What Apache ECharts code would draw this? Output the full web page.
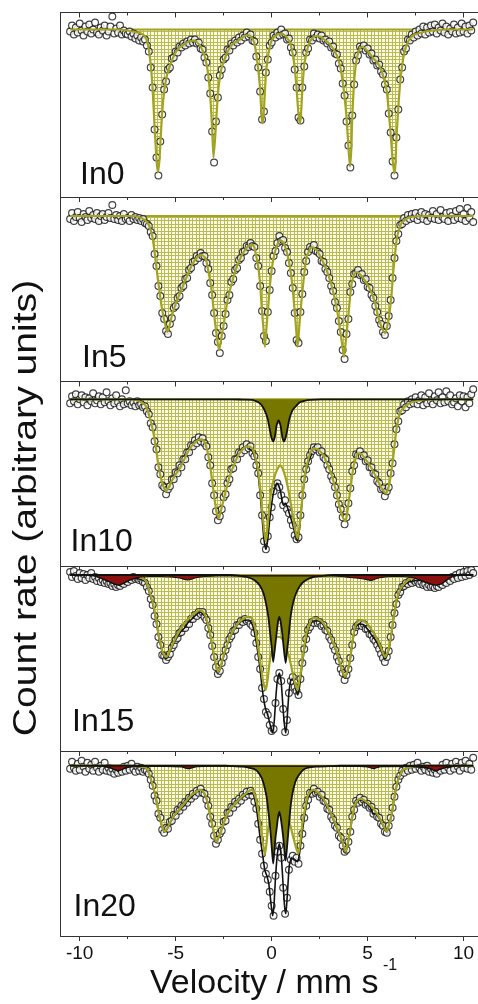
<!DOCTYPE html>
<html><head><meta charset="utf-8">
<script src="https://cdn.jsdelivr.net/npm/echarts@6/dist/echarts.min.js"></script>
<style>html,body{margin:0;padding:0;background:#fff}#c{width:478px;height:1004px}</style>
</head><body><div id="c"></div>
<script>
// ---------------- DATA ----------------
const velocity = [-10.5,-10.4,-10.3,-10.2,-10.1,
-10,-9.9,-9.8,-9.7,-9.6,-9.5,-9.4,-9.3,-9.2,-9.1,
-9,-8.9,-8.8,-8.7,-8.6,-8.5,-8.4,-8.3,-8.2,-8.1,
-8,-7.9,-7.8,-7.7,-7.6,-7.5,-7.4,-7.3,-7.2,-7.1,
-7,-6.9,-6.8,-6.7,-6.6,-6.5,-6.4,-6.3,-6.2,-6.1,
-6,-5.9,-5.8,-5.7,-5.6,-5.5,-5.4,-5.3,-5.2,-5.1,
-5,-4.9,-4.8,-4.7,-4.6,-4.5,-4.4,-4.3,-4.2,-4.1,
-4,-3.9,-3.8,-3.7,-3.6,-3.5,-3.4,-3.3,-3.2,-3.1,
-3,-2.9,-2.8,-2.7,-2.6,-2.5,-2.4,-2.3,-2.2,-2.1,
-2,-1.9,-1.8,-1.7,-1.6,-1.5,-1.4,-1.3,-1.2,-1.1,
-1,-0.9,-0.8,-0.7,-0.6,-0.5,-0.4,-0.3,-0.2,-0.1,
0,0.1,0.2,0.3,0.4,0.5,0.6,0.7,0.8,0.9,
1,1.1,1.2,1.3,1.4,1.5,1.6,1.7,1.8,1.9,
2,2.1,2.2,2.3,2.4,2.5,2.6,2.7,2.8,2.9,
3,3.1,3.2,3.3,3.4,3.5,3.6,3.7,3.8,3.9,
4,4.1,4.2,4.3,4.4,4.5,4.6,4.7,4.8,4.9,
5,5.1,5.2,5.3,5.4,5.5,5.6,5.7,5.8,5.9,
6,6.1,6.2,6.3,6.4,6.5,6.6,6.7,6.8,6.9,
7,7.1,7.2,7.3,7.4,7.5,7.6,7.7,7.8,7.9,
8,8.1,8.2,8.3,8.4,8.5,8.6,8.7,8.8,8.9,
9,9.1,9.2,9.3,9.4,9.5,9.6,9.7,9.8,9.9,
10,10.1,10.2,10.3,10.4,10.5];

const sampleLabels = ['In0','In5','In10','In15','In20'];
const majorTicks = [-10,-5,0,5,10];
const minorTicks = [-7.5,-2.5,2.5,7.5];

// measured count rate (relative to baseline), one value per velocity channel
const in0Counts = [-2,4,-5,2,-3,6,-1,-6,3,-2,5,-4,0,7,-3,-5,2,-1,4,-6,-2,3,13,-4,1,-3,4,-5,-1,-4,
-5,-2,-7,-4,-9,-6,-11,-8,-12,-10,
-16,-22,-38,-58,-100,-128,-146,-112,-85,-60,
-52,-40,-38,-29,-28,-22,-23,-17,-18,-14,
-16,-12,-14,-10,-13,-10,-14,-13,-19,-20,
-28,-33,-48,-64,-102,-133,-92,-68,-46,-40,
-30,-28,-20,-21,-14,-16,-11,-13,-8,-11,
-6,-8,-3,-7,-5,-11,-12,-27,-38,-62,
-90,-82,-43,-30,-16,-13,-6,-8,-3,-6,
0,-5,-4,-10,-9,-18,-23,-40,-58,-88,
-91,-58,-37,-23,-19,-10,-11,-4,-8,-5,
-9,-6,-11,-10,-14,-12,-18,-17,-24,-25,
-34,-39,-54,-66,-92,-116,-138,-86,-55,-31,
-26,-17,-19,-16,-21,-19,-25,-24,-31,-30,
-36,-35,-42,-45,-55,-60,-84,-103,-132,-146,
-108,-80,-50,-38,-22,-19,-10,-11,-5,-8,
-2,-6,0,-4,3,-5,2,-3,4,-2,
5,-4,2,-1,6,-3,3,-5,1,-2,
5,-4,2,-3,6,-2,3,-4,4,-1,7];

const in5Counts = [-3,3,-5,-1,4,-2,-6,2,-1,-4,5,-2,1,-3,3,-5,0,2,-4,-1,3,-2,11,-3,1,-4,0,-5,2,-3,
-2,-5,1,-3,-1,-4,-2,-5,-3,-7,
-8,-10,-16,-20,-38,-50,-70,-80,-97,-103,
-115,-118,-108,-102,-92,-90,-82,-80,-72,-70,
-63,-62,-54,-52,-46,-45,-40,-42,-37,-40,
-40,-47,-53,-67,-79,-97,-117,-126,-137,-120,
-110,-98,-84,-79,-66,-63,-54,-52,-44,-42,
-36,-35,-30,-31,-27,-30,-31,-42,-50,-70,
-95,-120,-125,-96,-74,-55,-40,-35,-27,-20,
-25,-24,-32,-36,-47,-57,-72,-97,-124,-127,
-96,-78,-56,-45,-36,-31,-33,-29,-35,-36,
-38,-45,-46,-53,-56,-62,-70,-75,-86,-92,
-105,-116,-134,-143,-118,-103,-76,-68,-58,-57,
-54,-59,-58,-64,-63,-71,-72,-79,-82,-90,
-96,-104,-108,-116,-119,-110,-100,-84,-62,-42,
-25,-18,-9,-8,-2,-5,1,-3,2,-2,
3,-4,0,4,-3,2,-5,1,-2,5,
-3,2,-4,6,-1,-3,3,-5,4,0,
-4,5,-2,7,-3,2,-5,8,-2,4,-6];

const in10Counts = [-4,3,-2,5,-5,0,4,-3,2,-6,1,-2,6,-4,-1,3,-5,2,-3,7,-2,-6,1,-4,4,-3,-7,0,-5,9,
-4,-2,-6,-3,-7,-2,-6,-5,-8,-7,
-12,-15,-24,-28,-42,-50,-68,-75,-86,-88,
-95,-90,-87,-80,-80,-73,-74,-66,-68,-60,
-60,-53,-53,-46,-47,-41,-44,-38,-42,-39,
-44,-47,-58,-66,-84,-96,-112,-121,-117,-110,
-98,-95,-84,-80,-70,-69,-60,-60,-53,-54,
-48,-51,-45,-49,-47,-54,-57,-66,-74,-96,
-116,-142,-150,-137,-118,-108,-92,-86,-84,-88,
-96,-106,-101,-110,-114,-121,-126,-136,-140,-138,
-116,-96,-80,-70,-62,-56,-52,-48,-50,-48,
-53,-52,-58,-60,-66,-70,-77,-81,-88,-96,
-105,-110,-118,-125,-118,-104,-89,-72,-66,-55,
-56,-52,-57,-56,-62,-61,-68,-68,-74,-75,
-82,-84,-90,-89,-97,-92,-88,-74,-64,-45,
-30,-22,-12,-11,-5,-8,-2,-5,0,-4,
2,-5,-1,4,-6,2,-4,6,-2,-5,
3,-1,7,-4,2,-3,8,-2,4,-5,
-3,1,-7,4,-2,3,-8,2,-4,5,10];

const in15Counts = [3,-2,4,-1,-4,2,-3,1,-5,0,-3,2,-4,-2,-6,-3,-7,-5,-8,-6,-9,-8,-11,-9,-12,-10,-11,-8,-9,-6,
-7,-4,-5,-2,-4,-3,-5,-4,-7,-8,
-12,-16,-24,-30,-41,-49,-62,-70,-80,-81,
-85,-82,-79,-73,-70,-65,-63,-58,-57,-53,
-53,-49,-49,-44,-44,-40,-41,-37,-39,-37,
-42,-45,-53,-60,-71,-82,-92,-99,-96,-88,
-82,-75,-70,-64,-61,-56,-55,-50,-50,-46,
-47,-44,-46,-45,-49,-51,-58,-68,-82,-94,
-113,-124,-137,-140,-150,-156,-154,-128,-104,-98,
-106,-134,-157,-145,-118,-106,-102,-112,-116,-120,
-104,-88,-74,-64,-55,-52,-47,-48,-45,-48,
-47,-51,-50,-55,-56,-62,-65,-71,-75,-82,
-86,-94,-98,-105,-100,-94,-83,-70,-57,-52,
-50,-48,-51,-49,-54,-54,-59,-60,-64,-66,
-70,-74,-79,-83,-87,-82,-76,-62,-50,-38,
-29,-20,-17,-12,-11,-8,-9,-6,-8,-5,
-7,-6,-9,-7,-10,-9,-12,-10,-12,-11,
-13,-11,-12,-9,-10,-7,-8,-4,-6,-2,
-4,0,-3,2,-2,3,-1,4,0,5,2];

const in20Counts = [-3,4,-2,-5,2,-4,5,-1,-6,3,-3,1,-5,4,-2,-6,0,-4,3,-5,-2,-6,-3,-8,-4,-7,-3,-6,-1,-5,
0,-4,2,-3,-6,-1,-5,-2,-6,-4,
-5,-8,-14,-20,-30,-35,-48,-52,-64,-67,
-62,-63,-56,-55,-49,-50,-44,-45,-40,-41,
-36,-37,-32,-33,-28,-30,-25,-27,-23,-27,
-28,-34,-40,-51,-58,-70,-78,-74,-68,-65,
-56,-55,-47,-47,-41,-42,-36,-38,-33,-35,
-29,-31,-26,-29,-25,-30,-36,-43,-58,-74,
-88,-100,-108,-114,-126,-140,-150,-110,-86,-80,
-92,-122,-148,-132,-104,-94,-90,-96,-92,-98,
-80,-68,-52,-40,-34,-27,-28,-23,-27,-26,
-31,-29,-35,-36,-43,-44,-51,-54,-60,-62,
-70,-72,-80,-86,-84,-76,-66,-51,-44,-35,
-37,-32,-36,-34,-39,-38,-42,-41,-48,-46,
-51,-52,-58,-60,-66,-67,-60,-52,-42,-31,
-21,-14,-10,-5,-7,-2,-5,0,-4,1,
-3,3,-2,-5,-1,-4,0,-6,-3,-7,
-4,-8,-3,-5,1,-4,3,-2,-5,2,
-3,4,-1,-5,3,-2,5,-3,2,-4,8];

// fitted sub-spectra [velocity, count rate]
const in0Sextet = [[-10.5,0],[-8,0],[-7.5,-1],[-7,-3],[-6.8,-4],[-6.6,-7],[-6.5,-11],[-6.4,-20],[-6.3,-35],[-6.2,-60],[-6.1,-97],[-6,-130],[-5.93,-143],[-5.85,-132],[-5.8,-115],[-5.7,-82],[-5.6,-62],[-5.5,-50],[-5.4,-42],[-5.2,-31],[-5,-23],[-4.8,-18],[-4.6,-15.5],[-4.4,-13],[-4.2,-11.5],[-4.05,-11],[-3.9,-12.5],[-3.7,-17],[-3.5,-26],[-3.4,-34],[-3.3,-46],[-3.2,-66],[-3.1,-100],[-3.03,-128],[-2.95,-110],[-2.9,-95],[-2.8,-65],[-2.7,-48],[-2.6,-38],[-2.4,-27],[-2.2,-19],[-2,-14],[-1.8,-12],[-1.6,-9],[-1.4,-6.5],[-1.2,-5.5],[-1,-9],[-0.9,-14],[-0.8,-25],[-0.7,-40],[-0.6,-60],[-0.52,-88],[-0.46,-94],[-0.4,-80],[-0.3,-45],[-0.2,-28],[-0.1,-18],[0,-11],[0.2,-6],[0.5,-4],[0.7,-6],[0.9,-11],[1,-16],[1.1,-25],[1.2,-38],[1.3,-60],[1.4,-85],[1.47,-94],[1.53,-85],[1.6,-60],[1.7,-35],[1.8,-25],[1.9,-17],[2,-12],[2.2,-7],[2.4,-6.5],[2.6,-8],[2.8,-11],[3,-14],[3.2,-19],[3.4,-26],[3.5,-32],[3.6,-40],[3.7,-52],[3.8,-68],[3.9,-88],[4,-118],[4.08,-137],[4.15,-120],[4.2,-88],[4.3,-52],[4.4,-33],[4.5,-24],[4.6,-19],[4.7,-17],[4.9,-19.5],[5.1,-23.5],[5.3,-29],[5.5,-33],[5.7,-40],[5.9,-53],[6,-62],[6.1,-82],[6.2,-105],[6.3,-130],[6.39,-144],[6.45,-135],[6.5,-110],[6.6,-78],[6.7,-52],[6.8,-36],[6.9,-24],[7,-17],[7.2,-9],[7.4,-5.5],[7.6,-4],[7.8,-3],[8,-2],[8.4,-1],[9,0],[10.5,0]];

const in5Sextet = [[-10.5,0],[-7.3,0],[-7,-0.5],[-6.8,-2],[-6.6,-4],[-6.5,-6],[-6.4,-9],[-6.3,-14],[-6.2,-22],[-6.1,-36],[-6,-52],[-5.9,-67],[-5.8,-82],[-5.7,-94],[-5.6,-104],[-5.5,-112],[-5.44,-116],[-5.35,-112],[-5.2,-100],[-5,-88],[-4.86,-81],[-4.6,-69],[-4.43,-61],[-4.2,-51],[-4,-44],[-3.8,-40],[-3.65,-39],[-3.5,-41],[-3.39,-46],[-3.3,-55],[-3.2,-65],[-3.13,-74],[-3,-98],[-2.9,-114],[-2.8,-128],[-2.73,-134],[-2.65,-125],[-2.52,-111],[-2.4,-96],[-2.26,-81],[-2,-62],[-1.82,-51],[-1.6,-41],[-1.39,-34],[-1.2,-30],[-0.96,-29],[-0.85,-36],[-0.7,-51],[-0.6,-68],[-0.52,-91],[-0.43,-112],[-0.35,-131],[-0.27,-112],[-0.18,-91],[-0.05,-62],[0.08,-44],[0.25,-31],[0.43,-24],[0.6,-26],[0.8,-37],[0.95,-51],[1.07,-68],[1.18,-91],[1.27,-112],[1.35,-131],[1.45,-108],[1.56,-84],[1.7,-58],[1.82,-41],[2,-33],[2.08,-31],[2.34,-34],[2.6,-43],[2.86,-54],[3.1,-68],[3.3,-84],[3.45,-99],[3.56,-114],[3.67,-128],[3.77,-141],[3.88,-122],[3.99,-101],[4.1,-78],[4.17,-67],[4.3,-59],[4.43,-56],[4.6,-58],[4.77,-62],[5,-69],[5.21,-77],[5.4,-88],[5.55,-101],[5.75,-112],[5.9,-117],[6.05,-108],[6.16,-94],[6.25,-78],[6.33,-57],[6.42,-40],[6.51,-24],[6.6,-16],[6.77,-7],[7,-3],[7.2,-1.3],[7.5,-0.5],[8,0],[10.5,0]];

const in10Sextet = [[-10.5,0],[-7.4,0],[-7,-1],[-6.8,-3],[-6.6,-5.7],[-6.5,-9],[-6.34,-19],[-6.2,-30],[-6.08,-42],[-5.9,-66],[-5.73,-82],[-5.6,-89],[-5.5,-92],[-5.35,-88],[-5.21,-82],[-5,-75],[-4.78,-69],[-4.55,-60],[-4.34,-52],[-4.1,-45],[-3.91,-42],[-3.75,-40],[-3.56,-41],[-3.43,-46],[-3.3,-56],[-3.18,-70],[-3.07,-86],[-2.96,-102],[-2.86,-114],[-2.75,-119],[-2.65,-112],[-2.52,-102],[-2.35,-89],[-2.17,-76],[-1.95,-65],[-1.74,-56],[-1.5,-50],[-1.3,-47],[-1.1,-48],[-0.96,-51],[-0.83,-60],[-0.7,-72],[-0.58,-92],[-0.47,-116],[-0.38,-133],[-0.3,-142],[-0.2,-125],[-0.09,-102],[0.04,-86],[0.17,-76],[0.3,-70],[0.43,-66],[0.56,-69],[0.69,-76],[0.82,-86],[0.95,-99],[1.08,-114],[1.21,-129],[1.35,-139],[1.43,-130],[1.51,-116],[1.62,-95],[1.73,-76],[1.87,-63],[2,-54],[2.13,-50],[2.26,-49],[2.48,-51],[2.69,-56],[2.9,-65],[3.13,-76],[3.3,-88],[3.47,-102],[3.6,-112],[3.73,-119],[3.85,-122],[3.95,-112],[4.04,-99],[4.15,-83],[4.25,-69],[4.38,-59],[4.51,-54],[4.7,-55],[4.86,-59],[5.08,-65],[5.29,-72],[5.47,-79],[5.64,-86],[5.8,-91],[5.95,-94],[6.06,-90],[6.16,-82],[6.25,-70],[6.33,-59],[6.42,-43],[6.51,-29],[6.6,-20],[6.68,-14],[6.85,-9],[7.03,-5.7],[7.3,-3],[7.6,-1.5],[8,0],[10.5,0]];

const in10Doublet = [[-10.5,0],[-2,0],[-1.5,-0.3],[-1,-0.5],[-0.8,-2],[-0.61,-4],[-0.45,-8],[-0.3,-14],[-0.2,-20],[-0.1,-30],[0,-39],[0.08,-42],[0.16,-38],[0.26,-26],[0.36,-21],[0.46,-26],[0.56,-38],[0.64,-42],[0.72,-39],[0.82,-30],[0.92,-20],[1.02,-14],[1.12,-10],[1.3,-6],[1.47,-3],[1.7,-1.5],[2,-0.5],[2.6,0],[10.5,0]];

const in10Total = [[-1.2,-49],[-1,-52],[-0.8,-64],[-0.7,-76],[-0.6,-94],[-0.5,-118],[-0.4,-140],[-0.3,-150],[-0.2,-140],[-0.1,-120],[0,-105],[0.08,-95],[0.17,-88],[0.26,-84],[0.36,-86],[0.46,-92],[0.56,-103],[0.64,-106],[0.72,-104],[0.82,-108],[0.95,-116],[1.08,-124],[1.21,-134],[1.35,-142],[1.45,-130],[1.55,-110],[1.65,-90],[1.75,-76],[1.9,-64],[2.1,-54]];

const in15Sextet = [[-10.5,0],[-7.5,0],[-7.2,-0.5],[-6.9,-2],[-6.6,-5],[-6.47,-10],[-6.34,-18],[-6.2,-27],[-6.08,-38],[-5.97,-50],[-5.87,-62],[-5.77,-70],[-5.68,-77],[-5.5,-82],[-5.4,-80],[-5.3,-75],[-5.05,-65],[-4.78,-55],[-4.52,-48],[-4.26,-42],[-4,-38],[-3.73,-35],[-3.6,-36],[-3.47,-40],[-3.34,-48],[-3.21,-58],[-3.1,-70],[-2.99,-82],[-2.88,-92],[-2.78,-97],[-2.65,-91],[-2.52,-82],[-2.35,-71],[-2.17,-62],[-1.95,-54],[-1.74,-48],[-1.5,-44],[-1.3,-42],[-1.04,-43],[-0.9,-50],[-0.78,-62],[-0.7,-73],[-0.61,-85],[-0.52,-97],[-0.43,-108],[-0.3,-115],[-0.2,-103],[-0.09,-85],[0.04,-73],[0.17,-65],[0.3,-62],[0.43,-62],[0.56,-64],[0.69,-68],[0.82,-76],[0.95,-85],[1.08,-97],[1.21,-108],[1.35,-115],[1.45,-105],[1.56,-92],[1.69,-73],[1.82,-58],[2,-48],[2.17,-43],[2.43,-44],[2.69,-48],[2.95,-57],[3.21,-68],[3.4,-78],[3.56,-88],[3.7,-97],[3.82,-102],[3.95,-96],[4.08,-85],[4.2,-68],[4.34,-52],[4.47,-47],[4.6,-45],[4.8,-46],[5.03,-50],[5.25,-56],[5.47,-63],[5.7,-73],[5.9,-82],[6.03,-78],[6.16,-68],[6.25,-57],[6.33,-45],[6.42,-35],[6.51,-25],[6.64,-17],[6.77,-12],[6.95,-8],[7.12,-5],[7.4,-2.5],[7.8,-1],[8.2,0],[10.5,0]];

const in15Doublet = [[-10.5,0],[-2.2,0],[-1.6,-1],[-1.3,-2],[-1,-4],[-0.78,-7],[-0.6,-11],[-0.43,-18],[-0.3,-28],[-0.17,-42],[-0.08,-58],[0,-72],[0.08,-87],[0.16,-75],[0.26,-58],[0.33,-47],[0.4,-42],[0.47,-47],[0.55,-58],[0.64,-75],[0.73,-88],[0.8,-76],[0.87,-65],[0.95,-48],[1.04,-35],[1.17,-24],[1.3,-17],[1.47,-11],[1.65,-7],[1.9,-4],[2.17,-2],[2.6,-1],[3.2,0],[10.5,0]];

const in15Red = [[-10.5,0],[-9.5,0],[-9.2,-1],[-8.9,-3],[-8.6,-5.5],[-8.3,-8],[-8,-10],[-7.7,-8],[-7.4,-5],[-7.1,-3],[-6.8,-2],[-6.4,-1.5],[-5.8,-1.5],[-5.2,-2],[-4.8,-3],[-4.5,-4.5],[-4.34,-5],[-4.15,-4],[-3.9,-2.5],[-3.5,-1.5],[-2.8,-1],[-2,-1],[-1,-0.8],[1,-0.8],[2,-1],[3,-1],[3.7,-1.5],[4.1,-2.5],[4.4,-3],[4.8,-4],[5.05,-5],[5.21,-5.5],[5.4,-4],[5.7,-2.5],[6.2,-1.5],[6.8,-1.5],[7.2,-2],[7.6,-4],[8,-7],[8.3,-9],[8.59,-10],[8.9,-8],[9.1,-5],[9.3,-2.5],[9.5,-1],[9.8,0],[10.5,0]];

const in15Total = [[-10.5,0],[-9.5,0],[-9.2,-1],[-8.9,-3],[-8.6,-5.5],[-8.3,-8],[-8,-10],[-7.7,-8],[-7.4,-5],[-7.1,-3.5],[-6.9,-4],[-6.6,-6.5],[-6.47,-11.5],[-6.34,-19.5],[-6.2,-28.5],[-6.08,-39.5],[-5.97,-51.5],[-5.87,-63.5],[-5.77,-71.5],[-5.68,-78.5],[-5.5,-83.5],[-5.4,-81.5],[-5.3,-76.5],[-5.05,-66.5],[-4.78,-58],[-4.52,-52.5],[-4.34,-47],[-4.26,-46],[-4,-41],[-3.73,-37],[-3.47,-41.5],[-3.34,-49.5],[-3.21,-59.5],[-3.1,-71],[-2.99,-83],[-2.88,-93],[-2.78,-98],[-2.65,-92],[-2.52,-83],[-2.35,-72],[-2.17,-63],[-1.95,-55],[-1.74,-49],[-1.5,-45.5],[-1.2,-45],[-1,-50],[-0.85,-62],[-0.7,-80],[-0.6,-95],[-0.5,-112],[-0.4,-126],[-0.3,-135],[-0.2,-140],[-0.1,-148],[0,-155],[0.06,-158],[0.14,-145],[0.22,-122],[0.3,-105],[0.4,-98],[0.5,-108],[0.6,-135],[0.68,-152],[0.74,-158],[0.82,-140],[0.9,-118],[1,-105],[1.1,-104],[1.2,-110],[1.35,-120],[1.45,-112],[1.55,-96],[1.7,-75],[1.85,-60],[2,-50],[2.17,-46],[2.43,-46],[2.69,-50],[2.95,-58],[3.21,-69],[3.4,-79],[3.56,-89],[3.7,-98],[3.82,-103],[3.95,-97],[4.08,-86],[4.2,-69],[4.34,-54],[4.47,-50],[4.6,-49],[4.8,-50],[5.03,-55],[5.21,-60],[5.47,-67],[5.7,-75.5],[5.9,-84],[6.03,-79.5],[6.16,-69.5],[6.25,-58.5],[6.33,-46.5],[6.42,-36.5],[6.51,-26.5],[6.64,-18.5],[6.77,-13.5],[6.95,-9.5],[7.12,-7],[7.4,-6],[7.6,-5],[8,-7],[8.3,-9],[8.59,-10],[8.9,-8],[9.1,-5],[9.3,-2.5],[9.5,-1],[9.8,0],[10.5,0]];

const in20Sextet = [[-10.5,0],[-7.4,0],[-7,-0.5],[-6.7,-1.5],[-6.51,-2.7],[-6.38,-8],[-6.25,-16],[-6.12,-25],[-5.99,-36],[-5.9,-45],[-5.82,-53],[-5.7,-61],[-5.6,-66],[-5.45,-63],[-5.3,-57],[-5.05,-49],[-4.78,-43],[-4.52,-37],[-4.26,-31],[-4,-27],[-3.73,-24],[-3.56,-26],[-3.39,-33],[-3.26,-44],[-3.13,-56],[-3,-68],[-2.9,-76],[-2.77,-72],[-2.6,-63],[-2.4,-52],[-2.17,-44],[-1.9,-38],[-1.65,-33],[-1.35,-28],[-1.04,-24],[-0.9,-28],[-0.78,-36],[-0.67,-48],[-0.56,-63],[-0.45,-78],[-0.35,-89],[-0.27,-78],[-0.18,-63],[-0.05,-50],[0.08,-45],[0.3,-43],[0.55,-44],[0.75,-48],[0.95,-58],[1.13,-72],[1.27,-82],[1.39,-88],[1.5,-75],[1.6,-59],[1.75,-42],[1.9,-29],[2.17,-24],[2.43,-27],[2.69,-33],[2.95,-42],[3.21,-53],[3.45,-64],[3.64,-73],[3.85,-86],[3.97,-77],[4.08,-66],[4.2,-51],[4.34,-39],[4.47,-35],[4.6,-33],[4.86,-35],[5.12,-39],[5.38,-45],[5.64,-53],[5.85,-61],[5.99,-66],[6.12,-58],[6.25,-49],[6.33,-39],[6.42,-29],[6.51,-20],[6.6,-13],[6.73,-8],[6.86,-4],[7.1,-2],[7.5,-0.5],[8,0],[10.5,0]];

const in20Doublet = [[-10.5,0],[-2.4,0],[-2,-0.5],[-1.5,-1],[-1.2,-2],[-0.96,-3],[-0.78,-5],[-0.61,-9],[-0.48,-14],[-0.35,-23],[-0.25,-33],[-0.17,-46],[-0.1,-58],[-0.03,-73],[0.03,-88],[0.08,-98],[0.14,-86],[0.2,-72],[0.26,-63],[0.33,-52],[0.4,-46],[0.47,-52],[0.55,-63],[0.62,-75],[0.68,-88],[0.73,-95],[0.79,-84],[0.87,-66],[0.95,-48],[1.04,-33],[1.15,-22],[1.3,-13],[1.47,-8],[1.65,-4],[1.9,-2],[2.3,-1],[3,-0.5],[3.6,0],[10.5,0]];

const in20Red = [[-10.5,0],[-8.8,-0.5],[-8.4,-2],[-8.15,-4],[-8,-5],[-7.85,-4],[-7.6,-2],[-7.2,-0.8],[-5.5,-0.6],[-4.7,-1.2],[-4.45,-2.5],[-4.34,-3],[-4.2,-2.5],[-3.9,-1],[-3,-0.5],[4.6,-0.6],[5,-1.2],[5.2,-2.5],[5.3,-3],[5.4,-2.5],[5.7,-1],[7.5,-0.8],[8.1,-2],[8.4,-4],[8.55,-5],[8.7,-4],[9,-2],[9.5,-0.5],[10.5,0]];

const in20Total = [[-10.5,0],[-8.8,-0.5],[-8.4,-2],[-8.15,-4],[-8,-5],[-7.85,-4],[-7.6,-2],[-7.2,-0.8],[-6.7,-2],[-6.51,-3.2],[-6.38,-8.5],[-6.25,-16.5],[-6.12,-25.5],[-5.99,-36.5],[-5.9,-45.5],[-5.82,-53.5],[-5.7,-61.5],[-5.6,-66.5],[-5.45,-63.5],[-5.3,-57.5],[-5.05,-49.5],[-4.78,-44],[-4.52,-39],[-4.34,-34],[-4.26,-33],[-4,-28],[-3.73,-24.5],[-3.56,-26.5],[-3.39,-33.5],[-3.26,-44.5],[-3.13,-56.5],[-3,-68.5],[-2.9,-76.5],[-2.77,-72.5],[-2.6,-63.5],[-2.4,-52.5],[-2.17,-44.5],[-1.9,-38.5],[-1.65,-34],[-1.35,-29],[-1.2,-28],[-1,-28],[-0.8,-42],[-0.6,-72],[-0.45,-92],[-0.35,-105],[-0.25,-110],[-0.15,-118],[-0.05,-135],[0.05,-150],[0.12,-140],[0.2,-112],[0.3,-88],[0.4,-78],[0.5,-90],[0.6,-120],[0.68,-142],[0.74,-148],[0.82,-128],[0.92,-100],[1.05,-92],[1.2,-94],[1.35,-96],[1.45,-88],[1.6,-66],[1.75,-46],[1.9,-32],[2.17,-25],[2.43,-28],[2.69,-34],[2.95,-43],[3.21,-54],[3.45,-65],[3.64,-74],[3.85,-87],[3.97,-78],[4.08,-67],[4.2,-52],[4.34,-40],[4.47,-36],[4.6,-34],[4.86,-36.5],[5.12,-41],[5.3,-48],[5.38,-47.5],[5.64,-54],[5.85,-61.5],[5.99,-66.5],[6.12,-58.5],[6.25,-49.5],[6.33,-39.5],[6.42,-29.5],[6.51,-20.5],[6.6,-13.5],[6.73,-8.5],[6.86,-4.5],[7.1,-2.3],[7.5,-1.2],[8.1,-2],[8.4,-4],[8.55,-5],[8.7,-4],[9,-2],[9.5,-0.5],[10.5,0]];

// ---------------- LAYOUT / STYLE ----------------
const countsBySample = [in0Counts, in5Counts, in10Counts, in15Counts, in20Counts];
const sextetFits = [in0Sextet, in5Sextet, in10Sextet, in15Sextet, in20Sextet];
const doubletFits = [null, null, in10Doublet, in15Doublet, in20Doublet];
const redFits = [null, null, null, in15Red, in20Red];
const totalFits = [null, null, in10Total, in15Total, in20Total];

const X_MIN = -11, X_MAX = 10.75;
const panelTop = [12.5, 197, 381.5, 566.5, 751];
const panelBottom = [197, 381.5, 566.5, 751, 936];
const panelY = [[-167.5, 17], [-165.5, 19], [-167.2, 17.8], [-176, 8.5], [-170.3, 14.7]];
const labelPos = [[80, 175], [82, 358.5], [70.5, 542.5], [72, 722], [73.5, 907.5]];

const FONT = "'Liberation Sans', Arial, Helvetica, sans-serif";
const OLIVE = '#a3a322';
const DARK_OLIVE = '#777700';
const RED = '#8b1010';
const INK = '#111';
const FRAME = '#333';

// hatch pattern
const hatch = document.createElement('canvas');
hatch.width = 7; hatch.height = 7;
(function () {
  const g = hatch.getContext('2d');
  g.fillStyle = '#fbfbe2'; g.fillRect(0, 0, 7, 7);
  g.fillStyle = '#b9b955';
  g.fillRect(0, 0, 7, 1); g.fillRect(0, 3, 7, 1);
  g.fillRect(0, 0, 1, 7); g.fillRect(3, 0, 1, 7);
})();

const grids = [], xAxes = [], yAxes = [], series = [], graphics = [];
const noLine = { show: false };
for (let i = 0; i < 5; i++) {
  grids.push({ left: 60.5, right: 0, top: panelTop[i], height: panelBottom[i] - panelTop[i], show: false });
  yAxes.push({ gridIndex: i, type: 'value', min: panelY[i][0], max: panelY[i][1], position: 'left',
    axisLine: { show: true, onZero: false, lineStyle: { color: FRAME, width: 1 } },
    axisTick: { show: false }, axisLabel: { show: false }, splitLine: { show: false } });
}
for (let i = 0; i < 5; i++) {
  xAxes.push({ gridIndex: i, type: 'value', min: X_MIN, max: X_MAX, position: 'top',
    axisLine: { show: true, onZero: false, lineStyle: { color: FRAME, width: 1 } },
    splitLine: noLine, axisLabel: { show: false },
    axisTick: { show: true, inside: true, length: 5, customValues: majorTicks, lineStyle: { color: FRAME, width: 1 } } });
}
for (let i = 0; i < 5; i++) {
  xAxes.push({ gridIndex: i, type: 'value', min: X_MIN, max: X_MAX, position: 'top',
    axisLine: { show: false, onZero: false }, splitLine: noLine, axisLabel: { show: false },
    axisTick: { show: true, inside: true, length: 3, customValues: minorTicks, lineStyle: { color: FRAME, width: 1 } } });
}
xAxes.push({ gridIndex: 4, type: 'value', min: X_MIN, max: X_MAX, position: 'bottom',
  axisLine: { show: true, onZero: false, lineStyle: { color: FRAME, width: 1 } }, splitLine: noLine,
  axisTick: { show: true, inside: false, length: 5, customValues: majorTicks, lineStyle: { color: FRAME, width: 1 } },
  axisLabel: { show: true, customValues: majorTicks, fontSize: 19, color: INK, fontFamily: FONT, margin: 8 } });
xAxes.push({ gridIndex: 4, type: 'value', min: X_MIN, max: X_MAX, position: 'bottom',
  axisLine: { show: false, onZero: false }, splitLine: noLine, axisLabel: { show: false },
  axisTick: { show: true, inside: false, length: 3, customValues: minorTicks, lineStyle: { color: FRAME, width: 1 } } });

for (let i = 0; i < 5; i++) {
  const ax = { xAxisIndex: i, yAxisIndex: i, silent: true, animation: false };
  series.push(Object.assign({ type: 'line', data: sextetFits[i], showSymbol: false, smooth: 0.2,
    lineStyle: { width: 0 }, areaStyle: { color: { image: hatch, repeat: 'repeat' }, opacity: 1 }, z: 1 }, ax));
  series.push(Object.assign({ type: 'line', data: [[velocity[0], 0], [velocity[velocity.length - 1], 0]],
    showSymbol: false, lineStyle: { color: OLIVE, width: 2 }, z: 2 }, ax));
  series.push(Object.assign({ type: 'scatter', data: velocity.map((v, k) => [v, countsBySample[i][k]]),
    symbol: 'circle', symbolSize: 6.8, itemStyle: { color: '#fff', borderColor: INK, borderWidth: 1.15 }, z: 3 }, ax));
  if (totalFits[i]) series.push(Object.assign({ type: 'line', data: totalFits[i], showSymbol: false, smooth: 0.2,
    lineStyle: { color: INK, width: 1.6 }, z: 4 }, ax));
  series.push(Object.assign({ type: 'line', data: sextetFits[i], showSymbol: false, smooth: 0.2,
    lineStyle: { color: OLIVE, width: 2.2 }, z: 5 }, ax));
  if (doubletFits[i]) series.push(Object.assign({ type: 'line', data: doubletFits[i], showSymbol: false, smooth: 0.2,
    lineStyle: { color: INK, width: 1.8 }, areaStyle: { color: DARK_OLIVE, opacity: 1 }, z: 6 }, ax));
  if (redFits[i]) series.push(Object.assign({ type: 'line', data: redFits[i], showSymbol: false, smooth: 0.2,
    lineStyle: { color: INK, width: 1.2 }, areaStyle: { color: RED, opacity: 1 }, z: 6 }, ax));

  graphics.push({ type: 'text', x: labelPos[i][0], y: labelPos[i][1], z: 10,
    style: { text: sampleLabels[i], font: '32px ' + FONT, fill: INK, textAlign: 'left', textVerticalAlign: 'middle' } });
}

graphics.push({ type: 'text', x: 27, y: 508, rotation: Math.PI / 2, scaleX: 1.15, z: 10,
  style: { text: 'Count rate (arbitrary units)', font: '34px ' + FONT, fill: INK, textAlign: 'center', textVerticalAlign: 'middle' } });
graphics.push({ type: 'text', x: 150, y: 984, z: 10,
  style: { text: 'Velocity / mm s', font: '34px ' + FONT, fill: INK, textAlign: 'left', textVerticalAlign: 'middle' } });
graphics.push({ type: 'text', x: 383, y: 966, z: 10,
  style: { text: '-1', font: '16px ' + FONT, fill: INK, textAlign: 'left', textVerticalAlign: 'middle' } });

const chart = echarts.init(document.getElementById('c'), null, { renderer: 'canvas' });
chart.setOption({
  animation: false,
  backgroundColor: '#fff',
  textStyle: { fontFamily: FONT },
  grid: grids, xAxis: xAxes, yAxis: yAxes, series: series, graphic: graphics
});
</script>
</body></html>
